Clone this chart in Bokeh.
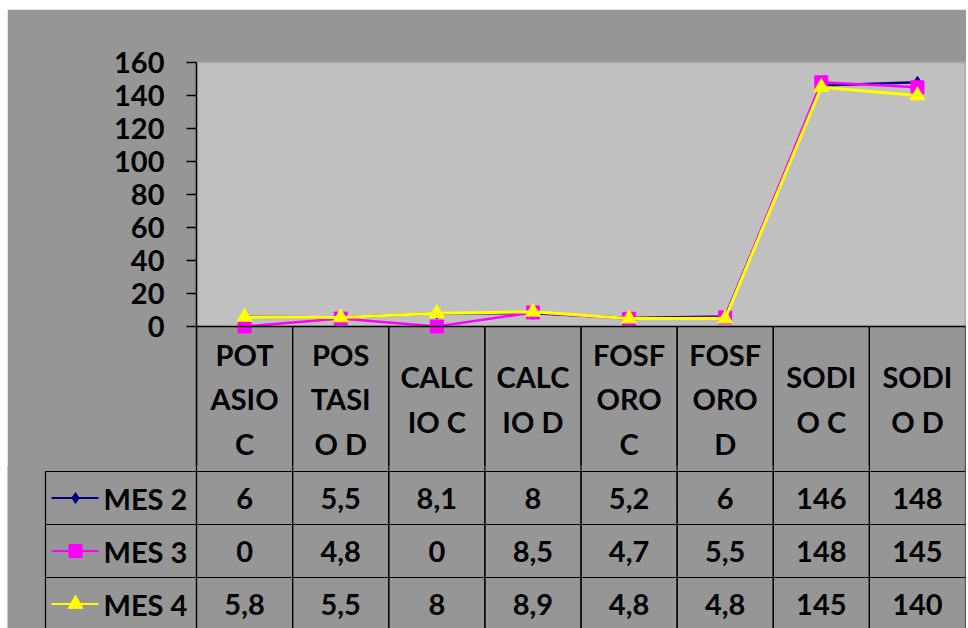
from bokeh.plotting import figure
from bokeh.models import Range1d, FixedTicker, Span, BoxAnnotation
from bokeh.core.properties import value
from bokeh.embed import file_html
from bokeh.resources import INLINE

# ---------------- data ----------------
categories = ["POT\nASIO\nC", "POS\nTASI\nO D", "CALC\nIO C", "CALC\nIO D",
              "FOSF\nORO\nC", "FOSF\nORO\nD", "SODI\nO C", "SODI\nO D"]
series_names = ["MES 2", "MES 3", "MES 4"]
mes2 = [6, 5.5, 8.1, 8, 5.2, 6, 146, 148]
mes3 = [0, 4.8, 0, 8.5, 4.7, 5.5, 148, 145]
mes4 = [5.8, 5.5, 8, 8.9, 4.8, 4.8, 145, 140]
y_ticks = [0, 20, 40, 60, 80, 100, 120, 140, 160]

# ---------------- style ----------------
FONT = "Lato"
FSIZE = "29px"
OUTER_BG = "#969696"
PLOT_BG = "#C0C0C0"
colors = ["#000080", "#FF00FF", "#FFFF00"]
markers = ["diamond", "square", "triangle"]
marker_sizes = [12, 13, 15]
legend_marker_sizes = [11, 13, 15]
line_widths = [2.5, 2.5, 3]

PAGE_L = 7          # gray chart area starts here (page px)
PAGE_T = 9
W = 959
FRAME_LEFT_PX = 196  # page px of plot-area left edge
FRAME_RIGHT_PX = 965
FRAME_TOP_PX = 62
ZERO_PX = 326        # page px of value 0
HEADER_H = 145
ROW_H = 53
SPLIT = HEADER_H - 2  # chart figure ends this many px below value 0
OVERLAP = 3           # table figure is pulled up over the chart figure
YMAX = 160

n = len(categories)
unit = (FRAME_RIGHT_PX - FRAME_LEFT_PX) / n
pxu = (ZERO_PX - FRAME_TOP_PX) / YMAX
xs = list(range(1, n + 1))
all_series = [mes2, mes3, mes4]


def px_to_x(px):
    """page pixel -> shared x units"""
    return 0.5 + (px - FRAME_LEFT_PX) / unit


def fmt(v):
    return f"{v:g}".replace(".", ",")


txt = dict(text_font=value(FONT), text_font_size=FSIZE, text_font_style="bold",
           text_color="black", text_baseline="middle")

# ---------------- chart + table header ----------------
chart_h = ZERO_PX + SPLIT - PAGE_T
p = figure(width=W, height=chart_h,
           x_range=Range1d(0.5, n + 0.5), y_range=Range1d(-SPLIT / pxu, YMAX),
           output_backend="svg", toolbar_location=None,
           x_axis_location=None,
           min_border_left=FRAME_LEFT_PX - PAGE_L,
           min_border_right=PAGE_L + W - FRAME_RIGHT_PX,
           min_border_top=FRAME_TOP_PX - PAGE_T, min_border_bottom=0,
           styles={"margin-left": f"{PAGE_L}px", "margin-top": f"{PAGE_T}px"})
p.background_fill_color = OUTER_BG
p.border_fill_color = OUTER_BG
p.outline_line_color = None
p.xgrid.visible = False
p.ygrid.visible = False

p.add_layout(BoxAnnotation(bottom=0, top=YMAX, fill_color=PLOT_BG, fill_alpha=1,
                           line_color="#808080", line_width=2, level="underlay"))

# header cells of the data table (category names)
p.quad(left=[x - 0.5 for x in xs], right=[x + 0.5 for x in xs],
       top=[0] * n, bottom=[-HEADER_H / pxu] * n,
       fill_color=None, line_color="black", line_width=1.2)
p.text(x=xs, y=[-(HEADER_H / 2) / pxu] * n, text=categories, text_align="center",
       text_line_height=1.27, **txt)
p.add_layout(Span(location=0, dimension="width", line_color="black", line_width=1.5))

for i, vals in enumerate(all_series):
    p.line(xs, vals, line_color=colors[i], line_width=line_widths[i])
    p.scatter(xs, vals, marker=markers[i], size=marker_sizes[i],
              fill_color=colors[i], line_color=colors[i])

ya = p.yaxis[0]
ya.ticker = FixedTicker(ticks=y_ticks)
ya.major_label_text_font = FONT
ya.major_label_text_font_size = FSIZE
ya.major_label_text_font_style = "bold"
ya.major_label_text_color = "black"
ya.major_label_standoff = 22
ya.major_tick_out = 10
ya.major_tick_in = 0
ya.minor_tick_out = 0
ya.minor_tick_in = 0
ya.axis_line_color = "black"
ya.axis_line_width = 1.5
ya.major_tick_line_color = "black"
ya.major_tick_line_width = 1.5

# ---------------- data table rows ----------------
t_top = SPLIT - OVERLAP
TH = 628 - (ZERO_PX + t_top)
t = figure(width=W, height=TH,
           x_range=Range1d(px_to_x(PAGE_L), px_to_x(FRAME_RIGHT_PX)),
           y_range=Range1d(t_top + TH, t_top),
           output_backend="svg", toolbar_location=None,
           x_axis_location=None, y_axis_location=None,
           min_border_left=0, min_border_right=PAGE_L + W - FRAME_RIGHT_PX,
           min_border_top=0, min_border_bottom=0,
           styles={"margin-left": f"{PAGE_L}px", "margin-top": f"-{OVERLAP}px"})
t.background_fill_color = OUTER_BG
t.border_fill_color = OUTER_BG
t.outline_line_color = None
t.xgrid.visible = False
t.ygrid.visible = False

# column borders continuing from the header into the overlap band
t.segment(x0=[j + 0.5 for j in range(n + 1)], y0=[t_top] * (n + 1),
          x1=[j + 0.5 for j in range(n + 1)], y1=[HEADER_H] * (n + 1),
          line_color="black", line_width=1.2)

for i, (name, vals) in enumerate(zip(series_names, all_series)):
    top = HEADER_H + ROW_H * i
    yc = top + ROW_H / 2
    t.quad(left=[px_to_x(45)], right=[0.5], top=[top], bottom=[top + ROW_H],
           fill_color=None, line_color="black", line_width=1.2)
    t.quad(left=[x - 0.5 for x in xs], right=[x + 0.5 for x in xs],
           top=[top] * n, bottom=[top + ROW_H] * n,
           fill_color=None, line_color="black", line_width=1.2)
    t.segment(x0=[px_to_x(51)], y0=[yc], x1=[px_to_x(98)], y1=[yc],
              line_color=colors[i], line_width=2)
    t.scatter(x=[px_to_x(75)], y=[yc], marker=markers[i],
              size=legend_marker_sizes[i], fill_color=colors[i], line_color=colors[i])
    t.text(x=[px_to_x(103)], y=[yc], text=[name], text_align="left", **txt)
    t.text(x=xs, y=[yc] * n, text=[fmt(v) for v in vals], text_align="center", **txt)

open("out.html", "w").write(file_html([p, t], INLINE))
